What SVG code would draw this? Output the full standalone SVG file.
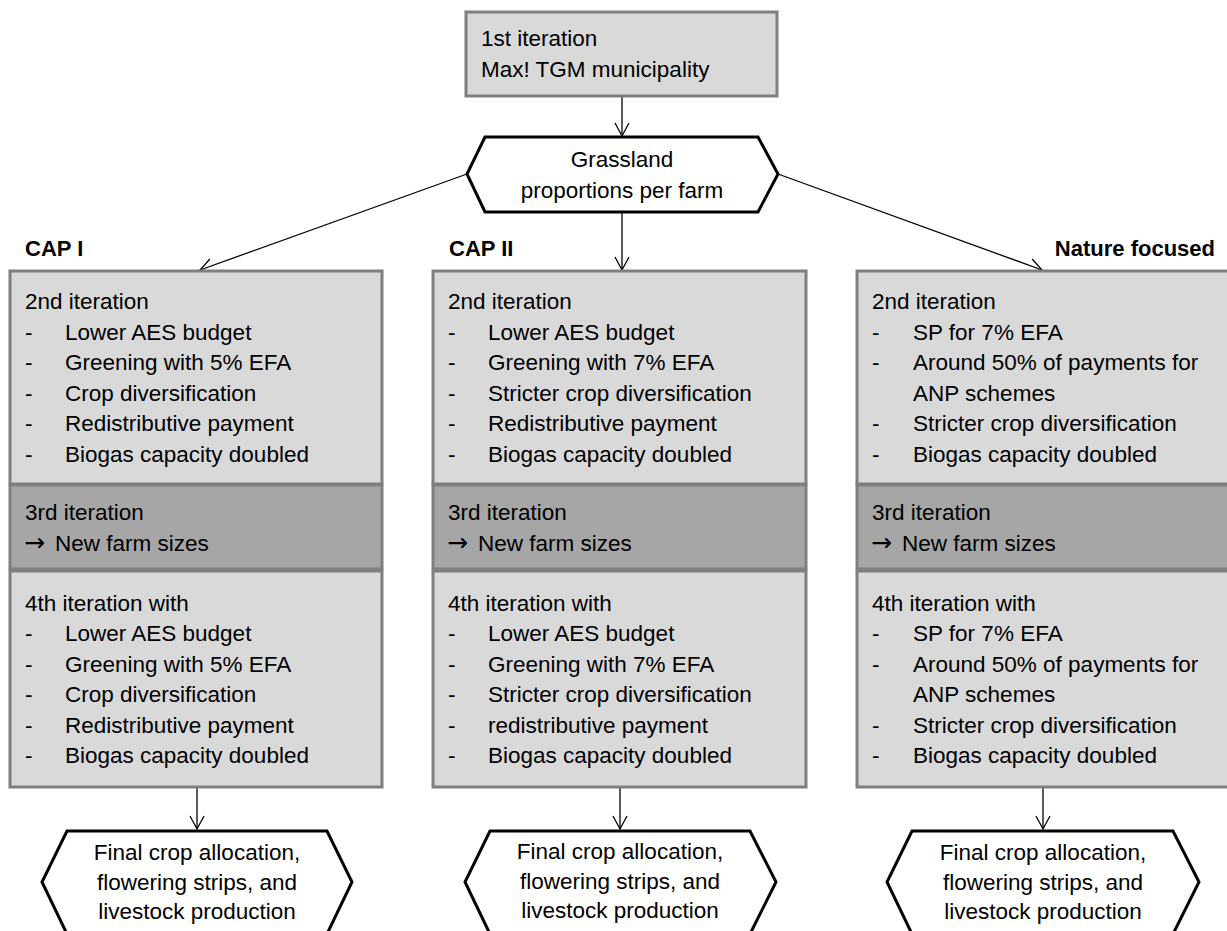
<svg xmlns="http://www.w3.org/2000/svg" width="1227" height="931" viewBox="0 0 1227 931">
<defs>
<style>
text{font-family:"Liberation Sans",Arial,sans-serif;font-size:22.5px;fill:#000}
.b{font-weight:bold;font-size:22px}
.c{text-anchor:middle}
.ar{font-family:"DejaVu Sans",sans-serif;font-size:25px}
.light{fill:#d9d9d9;stroke:#7f7f7f;stroke-width:3}
.dark{fill:#a6a6a6;stroke:#7f7f7f;stroke-width:3}
.hex{fill:#fff;stroke:#000;stroke-width:3}
.conn{stroke:#000;stroke-width:1.3;fill:none;marker-end:url(#arr)}
</style>
<marker id="arr" markerUnits="userSpaceOnUse" markerWidth="16" markerHeight="18" viewBox="0 0 16 18" refX="14" refY="9" orient="auto">
<path d="M1,2 L14,9 L1,16" fill="none" stroke="#000" stroke-width="1.3"/>
</marker>
</defs>
<rect width="1227" height="931" fill="#fff"/>

<g id="connectors">
<line class="conn" x1="622" y1="97" x2="622" y2="136"/>
<line class="conn" x1="467" y1="174" x2="200" y2="270"/>
<line class="conn" x1="622" y1="213" x2="622" y2="270"/>
<line class="conn" x1="778" y1="174" x2="1042" y2="270"/>
<line class="conn" x1="197" y1="788" x2="197" y2="829"/>
<line class="conn" x1="620" y1="788" x2="620" y2="829"/>
<line class="conn" x1="1043" y1="788" x2="1043" y2="829"/>
</g>

<g id="node-first">
<rect class="light" x="466" y="12" width="311" height="84"/>
<text x="481" y="46">1st iteration</text>
<text x="481" y="77">Max! TGM municipality</text>
</g>

<g id="node-grassland">
<polygon class="hex" points="485,137 758,137 778,174 758,212 485,212 467,174"/>
<text class="c" x="622" y="167">Grassland</text>
<text class="c" x="622" y="198">proportions per farm</text>
</g>

<g id="node-cap1">
<text class="b" x="25" y="256">CAP I</text>
<rect class="light" x="10" y="271" width="372" height="213"/>
<text x="25" y="309">2nd iteration</text>
<text x="25" y="340">-</text><text x="65" y="340">Lower AES budget</text>
<text x="25" y="370">-</text><text x="65" y="370">Greening with 5% EFA</text>
<text x="25" y="401">-</text><text x="65" y="401">Crop diversification</text>
<text x="25" y="431">-</text><text x="65" y="431">Redistributive payment</text>
<text x="25" y="462">-</text><text x="65" y="462">Biogas capacity doubled</text>
<rect class="dark" x="10" y="485" width="372" height="84"/>
<text x="25" y="520">3rd iteration</text>
<text class="ar" x="24" y="551">→</text><text x="55" y="551">New farm sizes</text>
<rect class="light" x="10" y="571" width="372" height="216"/>
<text x="25" y="611">4th iteration with</text>
<text x="25" y="641">-</text><text x="65" y="641">Lower AES budget</text>
<text x="25" y="672">-</text><text x="65" y="672">Greening with 5% EFA</text>
<text x="25" y="702">-</text><text x="65" y="702">Crop diversification</text>
<text x="25" y="733">-</text><text x="65" y="733">Redistributive payment</text>
<text x="25" y="763">-</text><text x="65" y="763">Biogas capacity doubled</text>
</g>

<g id="node-cap2">
<text class="b" x="449" y="256">CAP II</text>
<rect class="light" x="433" y="271" width="373" height="213"/>
<text x="448" y="309">2nd iteration</text>
<text x="448" y="340">-</text><text x="488" y="340">Lower AES budget</text>
<text x="448" y="370">-</text><text x="488" y="370">Greening with 7% EFA</text>
<text x="448" y="401">-</text><text x="488" y="401">Stricter crop diversification</text>
<text x="448" y="431">-</text><text x="488" y="431">Redistributive payment</text>
<text x="448" y="462">-</text><text x="488" y="462">Biogas capacity doubled</text>
<rect class="dark" x="433" y="485" width="373" height="84"/>
<text x="448" y="520">3rd iteration</text>
<text class="ar" x="447" y="551">→</text><text x="478" y="551">New farm sizes</text>
<rect class="light" x="433" y="571" width="373" height="216"/>
<text x="448" y="611">4th iteration with</text>
<text x="448" y="641">-</text><text x="488" y="641">Lower AES budget</text>
<text x="448" y="672">-</text><text x="488" y="672">Greening with 7% EFA</text>
<text x="448" y="702">-</text><text x="488" y="702">Stricter crop diversification</text>
<text x="448" y="733">-</text><text x="488" y="733">redistributive payment</text>
<text x="448" y="763">-</text><text x="488" y="763">Biogas capacity doubled</text>
</g>

<g id="node-nature">
<text class="b" x="1215" y="256" text-anchor="end">Nature focused</text>
<rect class="light" x="857" y="271" width="373" height="213"/>
<text x="872" y="309">2nd iteration</text>
<text x="872" y="340">-</text><text x="913" y="340">SP for 7% EFA</text>
<text x="872" y="370">-</text><text x="913" y="370">Around 50% of payments for</text>
<text x="913" y="401">ANP schemes</text>
<text x="872" y="431">-</text><text x="913" y="431">Stricter crop diversification</text>
<text x="872" y="462">-</text><text x="913" y="462">Biogas capacity doubled</text>
<rect class="dark" x="857" y="485" width="373" height="84"/>
<text x="872" y="520">3rd iteration</text>
<text class="ar" x="871" y="551">→</text><text x="902" y="551">New farm sizes</text>
<rect class="light" x="857" y="571" width="373" height="216"/>
<text x="872" y="611">4th iteration with</text>
<text x="872" y="641">-</text><text x="913" y="641">SP for 7% EFA</text>
<text x="872" y="672">-</text><text x="913" y="672">Around 50% of payments for</text>
<text x="913" y="702">ANP schemes</text>
<text x="872" y="733">-</text><text x="913" y="733">Stricter crop diversification</text>
<text x="872" y="763">-</text><text x="913" y="763">Biogas capacity doubled</text>
</g>

<g id="node-final1">
<polygon class="hex" points="67,831 327,831 352,882 327,934 67,934 42,882"/>
<text class="c" x="197" y="860">Final crop allocation,</text>
<text class="c" x="197" y="890">flowering strips, and</text>
<text class="c" x="197" y="919">livestock production</text>
</g>

<g id="node-final2">
<polygon class="hex" points="490,831 750,831 776,882 750,934 490,934 465,882"/>
<text class="c" x="620" y="859">Final crop allocation,</text>
<text class="c" x="620" y="889">flowering strips, and</text>
<text class="c" x="620" y="918">livestock production</text>
</g>

<g id="node-final3">
<polygon class="hex" points="912,831 1173,831 1199,882 1173,934 912,934 887,882"/>
<text class="c" x="1043" y="860">Final crop allocation,</text>
<text class="c" x="1043" y="890">flowering strips, and</text>
<text class="c" x="1043" y="919">livestock production</text>
</g>
</svg>
